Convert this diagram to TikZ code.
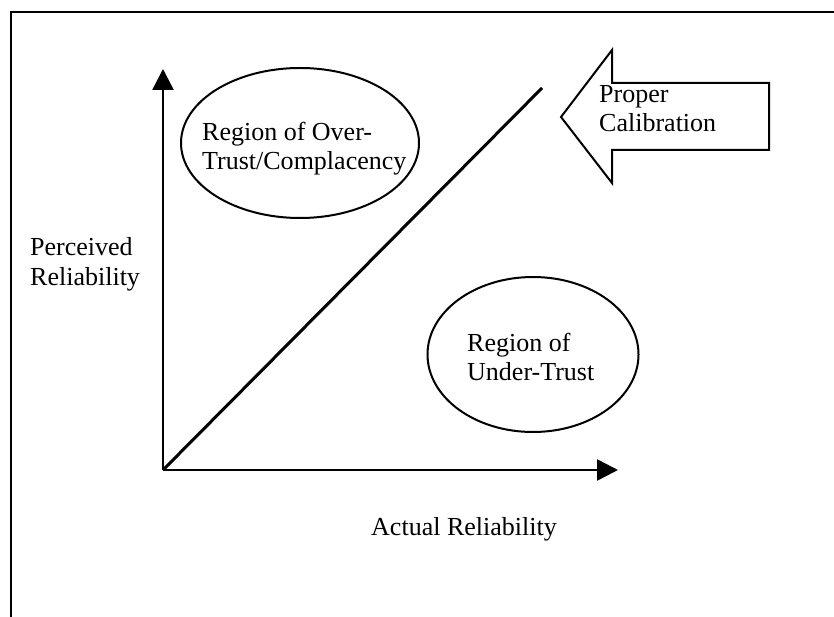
\documentclass[tikz,border=0pt]{standalone}
\usepackage{fontspec}
\setmainfont{Liberation Serif}
\usetikzlibrary{arrows.meta,shapes.geometric}
\tikzset{
  region/.style={draw, ellipse, line width=2pt, inner sep=0pt},
  lbl/.style={align=left, inner sep=0pt, anchor=base west, font=\fontsize{26}{29}\selectfont},
  axis/.style={line width=2.5pt, -{Triangle[length=21pt,width=21pt]}}
}
\begin{document}
\begin{tikzpicture}[x=1pt,y=-1pt]
\useasboundingbox (0,0) rectangle (834,617);
\draw[line width=2pt] (834,12) -- (11,12) -- (11,617);
\coordinate (O) at (163,470);
\coordinate (ytip) at (163,69);
\coordinate (xtip) at (618,470);
\coordinate (diagtop) at (542,88);
\draw[axis] (O) -- (ytip);
\draw[axis] (O) -- (xtip);
\draw[line width=3pt] (O) -- (diagtop);
% ellipses, text set on its last baseline
\node[region, minimum width=238pt, minimum height=150pt] (over) at (300,143) {};
\node[lbl] (overtext) at (202,170) {Region of Over-\\Trust/Complacency};
\node[region, minimum width=211pt, minimum height=155pt] (under) at (533,354.5) {};
\node[lbl] (undertext) at (467,380) {Region of\\Under-Trust};
\draw[line width=2pt, line join=miter] (561,117) -- (612,50) -- (612,83) -- (769,83)
  -- (769,150) -- (612,150) -- (612,183) -- cycle;
\node[lbl] (calib) at (599,132) {Proper\\Calibration};
\node[lbl] (perceived) at (30,285) {Perceived\\Reliability};
\node[lbl, anchor=base] (actual) at (464,535) {Actual Reliability};
\end{tikzpicture}
\end{document}
